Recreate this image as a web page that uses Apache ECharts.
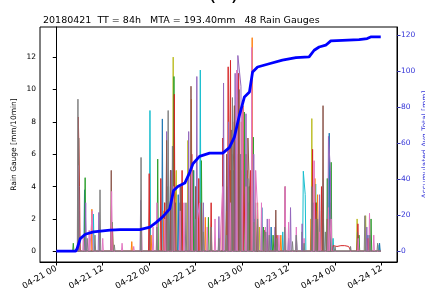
<!DOCTYPE html>
<html>
<head>
<meta charset="utf-8">
<script src="https://cdn.jsdelivr.net/npm/echarts@6/dist/echarts.min.js"></script>
<style>
  html, body { margin: 0; padding: 0; background: #fff; }
  #chart { width: 425px; height: 293px; }
</style>
</head>
<body>
<div id="chart"></div>
<script>
// hours after 2018-04-21 00:00
const xTickHours = [0, 12, 24, 36, 48, 60, 72, 84];
const xTickLabels = ["04-21 00", "04-21 12", "04-22 00", "04-22 12", "04-23 00", "04-23 12", "04-24 00", "04-24 12"];
const rainTicks = [0, 2, 4, 6, 8, 10, 12];
const totalTicks = [0, 20, 40, 60, 80, 100, 120];

// accumulated average total [mm]
const cumHours = [0, 5.0, 5.4, 6.2, 7.5, 9.6, 13.9, 16.5, 21.6, 24.2, 25.9, 27.6, 29.3, 30.3, 31.4, 33.2, 34.5, 35.3, 37.0, 39.6, 43.0, 44.7, 46.0, 47.3, 48.6, 49.9, 50.7, 52.0, 55.0, 58.4, 61.9, 65.3, 66.6, 67.9, 69.6, 70.9, 73.9, 78.2, 80.3, 81.2, 83.8];
const cumTotal = [0, 0, 1.5, 7, 9.4, 10.7, 11.7, 12, 12, 13.4, 16.1, 19.3, 23.5, 33.7, 35.9, 37.8, 43.9, 48.5, 52.6, 54.4, 54.4, 57.5, 63.3, 75.4, 85.6, 88.3, 99.4, 102.2, 104, 106, 107.4, 107.8, 111.5, 113.3, 114.3, 116.7, 117, 117.4, 118, 118.9, 118.9];

// rain gauge peaks [hour, mm/10min], grouped by line colour
const gaugeOlive = [[5.7, 2], [28, 3], [30.2, 12.0], [31, 5], [34.0, 6.85], [36, 4], [44, 3], [45.5, 3], [47, 6], [49, 2.5], [50.3, 4], [52.5, 1.5], [66, 8.2], [68, 2.5], [70.8, 3], [72, 0.15], [77.7, 2.0], [79.9, 2.2]];
const gaugeCyan = [[6, 1.5], [9.6, 2.3], [24.2, 8.7], [29, 4], [32, 3], [35, 2.5], [37.2, 11.2], [45.8, 5], [47.5, 4], [49.5, 3], [51.2, 2], [58.5, 1.2], [63.8, 4.95], [64.3, 3.5], [67, 4.16], [69, 2], [71.5, 0.8], [83.4, 0.4]];
const gaugeBlue = [[5.9, 2.5], [7.3, 3.8], [27.4, 8.18], [29.5, 5], [31.5, 3.5], [35.5, 5], [37, 3], [44, 4], [46.5, 7], [48, 6], [50, 4], [53.1, 2.7], [55.5, 1.5], [60, 0.8], [62, 1.0], [66.5, 3], [67.5, 2], [70.5, 7.3], [78, 0.8], [80.5, 1], [83.5, 0.5]];
const gaugeOrange = [[5.9, 1.5], [9.2, 2.6], [19.5, 0.6], [24.5, 1.0], [27.8, 2.5], [30.4, 9.7], [32.5, 4], [34.9, 9.4], [36.8, 3], [38.5, 2.1], [44, 2.5], [45, 5], [47.8, 8], [49.3, 5], [50.6, 13.2], [52, 3], [54, 1.2], [58, 1], [65.8, 2], [66.8, 4.5], [67.5, 3.5], [70.8, 2], [78, 0.7]];
const gaugeGreen = [[4.4, 0.5], [5.8, 2], [7.46, 4.55], [14.5, 1.8], [26.2, 5.7], [28.8, 4], [30.4, 10.8], [32, 3], [35.3, 5], [37.5, 5.6], [39.3, 2.1], [45.4, 6], [47, 9.5], [48.6, 8.6], [49.8, 4], [50.9, 7.05], [53.5, 1.5], [56, 1], [63.5, 1.2], [67.2, 3], [70, 4.5], [71, 5.5], [78.2, 1.0], [81.3, 2.0]];
const gaugeRed = [[5.7, 8.3], [6.0, 4], [14.5, 1.5], [24, 4.8], [27, 4.5], [28, 3], [29.6, 4.4], [30.5, 9.7], [32.5, 5], [35, 6], [36.8, 4.5], [40, 3], [43, 7], [44.4, 11.4], [45, 11.8], [46, 8], [47.1, 11.0], [48.2, 9], [49, 6], [50.2, 5], [52, 1.5], [54.5, 1.2], [57, 1], [66.2, 6.3], [67, 3], [68.5, 4],
  [71.5, 0.35], [72, 0.35], [72.5, 0.3], [73, 0.35], [73.5, 0.35], [74, 0.3], [74.5, 0.35], [75, 0.35], [75.5, 0.3], [76, 0.3], [77.9, 1.7], [80.5, 0.8]];
const gaugePurple = [[5.8, 4], [7.6, 3.0], [11, 2.4], [21.8, 3.15], [28.5, 7.4], [29.8, 5], [32, 4], [34.2, 7.4], [36.3, 10.8], [38, 3], [42, 2.15], [43.2, 10.4], [44.5, 8], [46.2, 11], [46.9, 12.1], [47.3, 12.2], [47.7, 10.2], [49, 8.5], [51, 6], [54.5, 2], [56.5, 1.5], [60.5, 2.7], [63.5, 1.7], [68, 3.5], [70.3, 7.1], [70.8, 5], [80.2, 1.5]];
const gaugeBrown = [[5.8, 7.0], [14.2, 5.0], [28.5, 6.85], [29.5, 5], [30.8, 3], [32.2, 4], [34.8, 10.2], [36, 4], [37.5, 3], [44, 6], [45.2, 7.5], [46, 9], [47.2, 10], [48, 5], [49.5, 7], [50, 3], [51.5, 3], [53.8, 1.3], [56.7, 2.55], [59.1, 4.0], [66, 3], [67.2, 2.5], [68.9, 9.0], [70, 2], [77.8, 1.2], [81, 0.6]];
const gaugePink = [[5.7, 5.3], [7, 1], [8.5, 1.3], [9.3, 2.5], [12, 0.8], [14.3, 3.7], [17, 0.5], [20, 0.3], [22, 2], [25, 1.5], [26, 3], [28, 2], [30.3, 4], [32, 2.5], [33, 3], [35, 5], [36.5, 2], [37, 3], [39, 1.5], [41, 2], [42.5, 1.5], [43, 4],
  [45, 3], [46.6, 11.2], [48, 9], [49, 4], [50.5, 12.6], [51.5, 5], [52, 2.5], [53, 3], [54, 1.5], [55, 2], [57.5, 1], [59.1, 4.0], [60, 1.8], [62, 1.5], [64, 0.8], [66.6, 5.6], [68, 1.2], [70.3, 2.7], [71, 2], [78, 0.8], [80.9, 2.35], [82, 1]];
const gaugeGray = [[5.6, 9.4], [8, 0.8], [10, 1.0], [11.3, 3.8], [15, 0.4], [21.9, 5.8], [26, 1.5], [28.9, 8.7], [30.0, 6.5], [33.5, 3], [36, 2], [38, 1.2], [40, 1.5], [42, 0.8], [44, 1], [45.5, 9.5], [47.6, 6], [49.5, 4.5],
  [51, 1.8], [52, 2], [54, 1.2], [55, 1], [57, 0.8], [59, 1.5], [61, 0.6], [62, 1], [64, 0.5], [66, 4.0], [67, 2], [69.5, 1.2], [72, 0.3], [76, 0.3], [79.7, 2.2], [81, 1.0], [83, 0.5]];

const gauges = [
  { name: "olive", color: "#bcbd22", data: gaugeOlive },
  { name: "cyan", color: "#17becf", data: gaugeCyan },
  { name: "blue", color: "#1f77b4", data: gaugeBlue },
  { name: "orange", color: "#ff7f0e", data: gaugeOrange },
  { name: "green", color: "#2ca02c", data: gaugeGreen },
  { name: "red", color: "#d62728", data: gaugeRed },
  { name: "purple", color: "#9467bd", data: gaugePurple },
  { name: "brown", color: "#8c564b", data: gaugeBrown },
  { name: "pink", color: "#e377c2", data: gaugePink },
  { name: "gray", color: "#7f7f7f", data: gaugeGray },
];

// 10-min steps: the gauge sits at 0 between separate peaks
const step = 1 / 6;
function spikes(list) {
  const events = list.slice().sort((a, b) => a[0] - b[0]);
  const out = [[0, 0]];
  events.forEach(([h, v], i) => {
    const prev = events[i - 1];
    if (!prev || h - prev[0] > 0.5) out.push([h - step, 0]);
    out.push([h, v]);
    const next = events[i + 1];
    if (!next || next[0] - h > 0.5) out.push([h + step, 0]);
  });
  out.push([83.83, 0]);
  return out;
}

const font = "DejaVu Sans";
const chart = echarts.init(document.getElementById("chart"), null, { renderer: "canvas" });

const series = gauges.map((g) => ({
  name: g.name,
  type: "line",
  xAxisIndex: 0,
  yAxisIndex: 0,
  data: spikes(g.data),
  showSymbol: false,
  symbol: "none",
  lineStyle: { color: g.color, width: 1 },
  silent: true,
}));

series.push({
  name: "Accumulated",
  type: "line",
  xAxisIndex: 0,
  yAxisIndex: 1,
  data: cumHours.map((h, i) => [h, cumTotal[i]]),
  showSymbol: false,
  symbol: "none",
  lineStyle: { color: "#0000ff", width: 2.8 },
  z: 5,
});

chart.setOption({
  animation: false,
  backgroundColor: "#fff",
  textStyle: { fontFamily: font },
  title: {
    text: "20180421  TT = 84h   MTA = 193.40mm   48 Rain Gauges",
    left: 38,
    top: 11,
    textStyle: { fontFamily: font, fontSize: 9.5, fontWeight: "normal", color: "#000" },
  },
  graphic: [{
    type: "text",
    left: 208,
    top: -17,
    style: { text: "(b)", font: "22px DejaVu Sans", fill: "#000" },
  }],
  grid: {
    left: 40, right: 28, top: 27, bottom: 31,
    show: true, borderColor: "#000", borderWidth: 1,
    containLabel: false,
    outerBoundsMode: "none",
  },
  xAxis: {
    type: "value",
    min: -4.2,
    max: 88.0,
    axisLine: { show: true, onZero: false, lineStyle: { color: "#000" } },
    axisTick: { show: true, length: 3.5, customValues: xTickHours, lineStyle: { color: "#000" } },
    splitLine: { show: false },
    axisLabel: {
      customValues: xTickHours,
      rotate: 30,
      fontSize: 8.5,
      color: "#000",
      margin: 6,
      fontFamily: font,
      hideOverlap: false,
      overflow: "none",
      formatter: (v) => {
        const i = xTickHours.indexOf(Math.round(v * 1000) / 1000);
        return i >= 0 ? xTickLabels[i] : "";
      },
    },
  },
  yAxis: [{
    type: "value",
    min: -0.66,
    max: 13.86,
    name: "Rain Gauge [mm/10min]",
    nameLocation: "middle",
    nameRotate: 90,
    nameGap: 22,
    nameMoveOverlap: false,
    nameTextStyle: { fontFamily: font, fontSize: 7.5, color: "#000" },
    axisLine: { show: true, lineStyle: { color: "#000" } },
    axisTick: { show: true, length: 3.5, customValues: rainTicks, lineStyle: { color: "#000" } },
    splitLine: { show: false },
    axisLabel: {
      customValues: rainTicks,
      fontSize: 7.5,
      color: "#000",
      margin: 4,
      fontFamily: font,
      formatter: (v) => String(Math.round(v)),
    },
  }, {
    type: "value",
    position: "right",
    min: -6.0,
    max: 124.4,
    name: "Accumulated Avg Total [mm]",
    nameLocation: "middle",
    nameRotate: 90,
    nameGap: 24,
    nameMoveOverlap: false,
    nameTextStyle: { fontFamily: font, fontSize: 7.5, color: "#3535d8" },
    axisLine: { show: true, lineStyle: { color: "#000" } },
    axisTick: { show: true, length: 3.5, customValues: totalTicks, lineStyle: { color: "#3535a8" } },
    splitLine: { show: false },
    axisLabel: {
      customValues: totalTicks,
      fontSize: 7.5,
      color: "#3535d8",
      margin: 4,
      fontFamily: font,
      formatter: (v) => String(Math.round(v)),
    },
  }],
  series: series,
});
</script>
</body>
</html>
